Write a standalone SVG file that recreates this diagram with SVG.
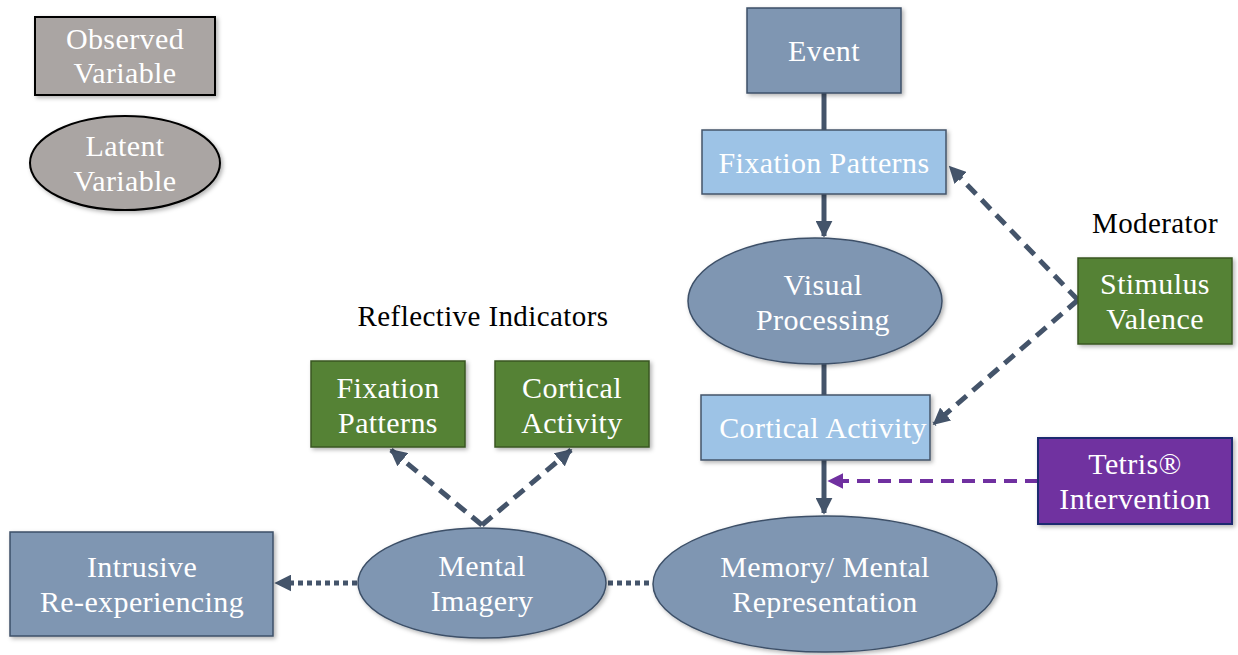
<svg xmlns="http://www.w3.org/2000/svg" width="1238" height="655" viewBox="0 0 1238 655">
<defs>
<style>
text{font-family:"Liberation Serif","DejaVu Serif",serif;font-size:30px;letter-spacing:0.4px;fill:#ffffff;text-anchor:middle}
.lbl{fill:#000000;font-size:29px}
.dark{fill:#7f96b2;stroke:#3d5068;stroke-width:1.5}
.light{fill:#9dc3e6;stroke:#44546a;stroke-width:1.5}
.green{fill:#548235;stroke:#385723;stroke-width:1.5}
.purple{fill:#7030a0;stroke:#1f2a70;stroke-width:2}
.legend{fill:#aaa5a3;stroke:#000000;stroke-width:2}
.solid{stroke:#44546a;stroke-width:5;fill:none}
.dash{stroke:#44546a;stroke-width:5;fill:none;stroke-dasharray:13 8}
.dot{stroke:#44546a;stroke-width:5;fill:none;stroke-dasharray:5 4}
.pdash{stroke:#7030a0;stroke-width:4;fill:none;stroke-dasharray:13 8}
</style>
<marker id="ah" viewBox="0 0 10 10" refX="9" refY="5" markerWidth="3.4" markerHeight="3.4" orient="auto" markerUnits="strokeWidth">
<path d="M0,0 L10,5 L0,10 z" fill="#44546a"/>
</marker>
<marker id="ahp" viewBox="0 0 10 10" refX="9" refY="5" markerWidth="4" markerHeight="4" orient="auto" markerUnits="strokeWidth">
<path d="M0,0 L10,5 L0,10 z" fill="#7030a0"/>
</marker>
<filter id="sh" x="-10%" y="-10%" width="125%" height="130%">
<feDropShadow dx="2" dy="2" stdDeviation="2" flood-color="#000" flood-opacity="0.3"/>
</filter>
</defs>

<g id="legend-observed">
<rect class="legend" x="35" y="17" width="180" height="78" filter="url(#sh)"/>
<text x="125" y="49">Observed</text>
<text x="125" y="83">Variable</text>
</g>
<g id="legend-latent">
<ellipse class="legend" cx="125" cy="163" rx="95" ry="47" filter="url(#sh)"/>
<text x="125" y="156">Latent</text>
<text x="125" y="191">Variable</text>
</g>

<g id="connectors">
<line class="solid" x1="824" y1="93" x2="824" y2="130"/>
<line class="solid" x1="824" y1="194" x2="824" y2="236" marker-end="url(#ah)"/>
<line class="solid" x1="824" y1="364" x2="824" y2="395"/>
<line class="solid" x1="824" y1="460" x2="824" y2="513" marker-end="url(#ah)"/>
<line class="dash" x1="1078" y1="300" x2="950" y2="167" marker-end="url(#ah)"/>
<line class="dash" x1="1078" y1="300" x2="934" y2="424" marker-end="url(#ah)"/>
<line class="pdash" x1="1038" y1="481" x2="829" y2="481" marker-end="url(#ahp)"/>
<line class="dash" x1="482" y1="525" x2="391" y2="450" marker-end="url(#ah)"/>
<line class="dash" x1="482" y1="525" x2="571" y2="450" marker-end="url(#ah)"/>
<line class="dot" x1="357" y1="583" x2="276" y2="583" marker-end="url(#ah)"/>
<line class="dot" x1="608" y1="583" x2="652" y2="583"/>
</g>

<g id="event">
<rect class="dark" x="747" y="8" width="154" height="85" filter="url(#sh)"/>
<text x="824" y="61">Event</text>
</g>
<g id="fixation-patterns">
<rect class="light" x="702" y="130" width="244" height="64" filter="url(#sh)"/>
<text x="824" y="173">Fixation Patterns</text>
</g>
<g id="visual-processing">
<ellipse class="dark" cx="815" cy="301" rx="127" ry="63" filter="url(#sh)"/>
<text x="823" y="295">Visual</text>
<text x="823" y="330">Processing</text>
</g>
<g id="cortical-activity">
<rect class="light" x="701" y="395" width="229" height="65" filter="url(#sh)"/>
<text x="823" y="438">Cortical Activity</text>
</g>
<g id="memory">
<ellipse class="dark" cx="825" cy="584" rx="172" ry="68" filter="url(#sh)"/>
<text x="825" y="577">Memory/ Mental</text>
<text x="825" y="612">Representation</text>
</g>
<g id="moderator-label">
<text class="lbl" x="1155" y="233">Moderator</text>
</g>
<g id="stimulus-valence">
<rect class="green" x="1078" y="258" width="154" height="86" filter="url(#sh)"/>
<text x="1155" y="294">Stimulus</text>
<text x="1155" y="329">Valence</text>
</g>
<g id="tetris">
<rect class="purple" x="1038" y="438" width="194" height="86" filter="url(#sh)"/>
<text x="1135" y="474">Tetris®</text>
<text x="1135" y="509">Intervention</text>
</g>
<g id="reflective-label">
<text class="lbl" x="483" y="326">Reflective Indicators</text>
</g>
<g id="fixation-indicator">
<rect class="green" x="311" y="361" width="154" height="86" filter="url(#sh)"/>
<text x="388" y="398">Fixation</text>
<text x="388" y="433">Patterns</text>
</g>
<g id="cortical-indicator">
<rect class="green" x="495" y="361" width="154" height="86" filter="url(#sh)"/>
<text x="572" y="398">Cortical</text>
<text x="572" y="433">Activity</text>
</g>
<g id="mental-imagery">
<ellipse class="dark" cx="482" cy="583" rx="124" ry="55" filter="url(#sh)"/>
<text x="482" y="576">Mental</text>
<text x="482" y="611">Imagery</text>
</g>
<g id="intrusive">
<rect class="dark" x="10" y="532" width="263" height="104" filter="url(#sh)"/>
<text x="142" y="577">Intrusive</text>
<text x="142" y="612">Re-experiencing</text>
</g>
</svg>
